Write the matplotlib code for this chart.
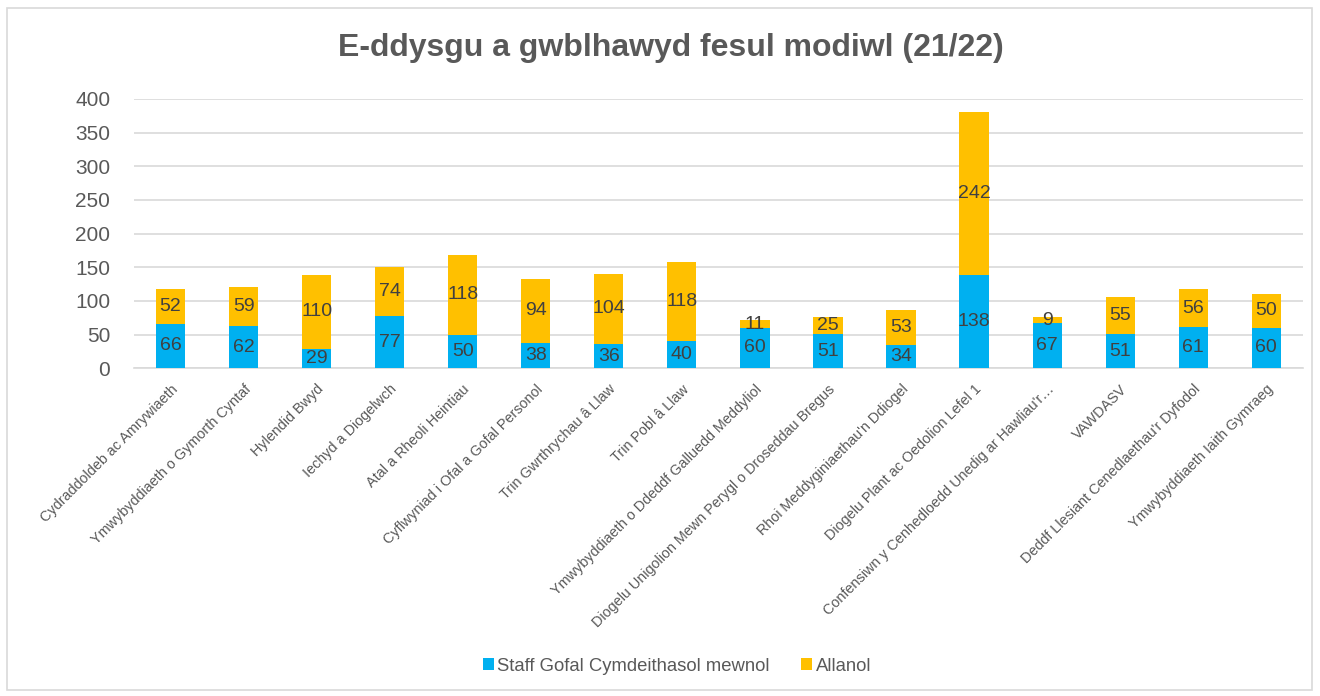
import numpy as np
import matplotlib.pyplot as plt
from matplotlib.patches import Rectangle

plt.rcParams['font.family'] = ['Liberation Sans', 'DejaVu Sans']

# modiwlau e-ddysgu
modiwlau = [
    "Cydraddoldeb ac Amrywiaeth",
    "Ymwybyddiaeth o Gymorth Cyntaf",
    "Hylendid Bwyd",
    "Iechyd a Diogelwch",
    "Atal a Rheoli Heintiau",
    "Cyflwyniad i Ofal a Gofal Personol",
    "Trin Gwrthrychau â Llaw",
    "Trin Pobl â Llaw",
    "Ymwybyddiaeth o Ddeddf Galluedd Meddyliol",
    "Diogelu Unigolion Mewn Perygl o Droseddau Bregus",
    "Rhoi Meddyginiaethau'n Ddiogel",
    "Diogelu Plant ac Oedolion Lefel 1",
    "Confensiwn y Cenhedloedd Unedig ar Hawliau'r…",
    "VAWDASV",
    "Deddf Llesiant Cenedlaethau'r Dyfodol",
    "Ymwybyddiaeth Iaith Gymraeg",
]
mewnol = [66, 62, 29, 77, 50, 38, 36, 40, 60, 51, 34, 138, 67, 51, 61, 60]
allanol = [52, 59, 110, 74, 118, 94, 104, 118, 11, 25, 53, 242, 9, 55, 56, 50]

glas = '#00B0F0'
melyn = '#FFC000'
llwyd = '#595959'

fig = plt.figure(figsize=(13.2, 6.96), dpi=100)
ax = fig.add_axes([0.1015, 0.471, 0.8855, 0.387])

x = np.arange(len(modiwlau))
b1 = ax.bar(x, mewnol, width=0.4, color=glas, label='Staff Gofal Cymdeithasol mewnol', zorder=3)
b2 = ax.bar(x, allanol, width=0.4, bottom=mewnol, color=melyn, label='Allanol', zorder=3)

ax.bar_label(b1, label_type='center', fontsize=14, color='#404040')
ax.bar_label(b2, label_type='center', fontsize=14, color='#404040')

ax.set_xlim(-0.5, len(modiwlau) - 0.5)
ax.set_ylim(0, 400)
ax.set_yticks(range(0, 401, 50))
ax.yaxis.grid(True, color='#D9D9D9', linewidth=1.2, zorder=0)
ax.tick_params(axis='y', length=0, labelsize=15, labelcolor=llwyd, pad=17)
ax.tick_params(axis='x', length=0, pad=10)
ax.set_xticks(x)
ax.set_xticklabels(modiwlau, rotation=45, ha='right', rotation_mode='anchor',
                   fontsize=10.4, color=llwyd)
for s in ['top', 'right', 'left']:
    ax.spines[s].set_visible(False)
ax.spines['bottom'].set_color('#D9D9D9')
ax.spines['bottom'].set_linewidth(1.2)

fig.text(0.508, 0.931, 'E-ddysgu a gwblhawyd fesul modiwl (21/22)', ha='center', va='center',
         fontsize=23, fontweight='bold', color=llwyd)

fig.legend(loc='center', bbox_to_anchor=(0.513, 0.043), ncol=2, frameon=False,
           fontsize=13.3, labelcolor=llwyd, handlelength=0.6, handleheight=0.6,
           handletextpad=0.2, columnspacing=1.7)

# ffrâm o amgylch y siart
fig.patches.append(Rectangle((0.005, 0.008), 0.989, 0.98, transform=fig.transFigure,
                             fill=False, edgecolor='#D9D9D9', linewidth=1.2))

fig.savefig('out.png', dpi=100)
